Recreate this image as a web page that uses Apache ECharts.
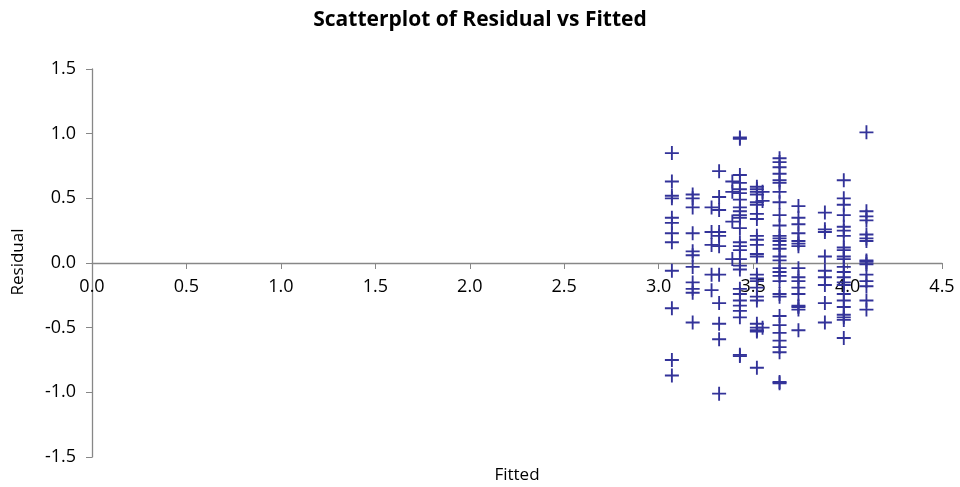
<!DOCTYPE html>
<html>
<head>
<meta charset="utf-8">
<script src="https://cdn.jsdelivr.net/npm/echarts@6/dist/echarts.min.js"></script>
<style>
html,body{margin:0;padding:0;background:#fff;}
#c{width:960px;height:487px;}
</style>
</head>
<body>
<div id="c"></div>
<script>
// Fitted value of each column of points
var fitted = [3.07, 3.18, 3.28, 3.32, 3.39, 3.43, 3.52, 3.55, 3.64, 3.74, 3.88, 3.98, 4.10];
// Residuals in each column
var res307 = [0.85, 0.63, 0.52, 0.50, 0.35, 0.31, 0.23, 0.16, -0.06, -0.35, -0.75, -0.87];
var res318 = [0.53, 0.50, 0.43, 0.23, 0.09, 0.06, -0.03, -0.15, -0.20, -0.23, -0.46];
var res328 = [0.43, 0.24, 0.14, -0.09, -0.21];
var res332 = [0.71, 0.51, 0.41, 0.24, 0.21, 0.13, -0.09, -0.31, -0.47, -0.59, -1.01];
var res339 = [0.63, 0.55, 0.32, 0.03];
var res343 = [0.97, 0.96, 0.68, 0.62, 0.57, 0.54, 0.49, 0.43, 0.40, 0.37, 0.35, 0.27, 0.16, 0.13, 0.10, 0.03, -0.02, -0.05, -0.20, -0.24, -0.29, -0.33, -0.37, -0.42, -0.71, -0.72];
var res352 = [0.59, 0.57, 0.55, 0.53, 0.47, 0.45, 0.38, 0.34, 0.21, 0.18, 0.14, 0.07, 0.05, -0.09, -0.12, -0.14, -0.19, -0.26, -0.29, -0.47, -0.50, -0.52, -0.53, -0.81];
var res355 = [0.55, 0.48, -0.50];
var res364 = [0.81, 0.78, 0.74, 0.69, 0.64, 0.62, 0.55, 0.47, 0.37, 0.29, 0.21, 0.19, 0.17, 0.14, 0.11, 0.05, 0.02, -0.04, -0.07, -0.10, -0.14, -0.24, -0.26, -0.41, -0.48, -0.54, -0.60, -0.65, -0.69, -0.92, -0.93];
var res374 = [0.44, 0.35, 0.30, 0.23, 0.17, 0.15, 0.13, -0.04, -0.11, -0.14, -0.19, -0.24, -0.33, -0.34, -0.36, -0.52];
var res388 = [0.39, 0.26, 0.24, 0.05, -0.06, -0.11, -0.17, -0.31, -0.46];
var res398 = [0.64, 0.50, 0.45, 0.37, 0.28, 0.25, 0.21, 0.12, 0.10, 0.05, 0.03, -0.03, -0.07, -0.11, -0.15, -0.17, -0.24, -0.29, -0.34, -0.40, -0.42, -0.44, -0.58];
var res410 = [1.01, 0.40, 0.36, 0.33, 0.22, 0.19, 0.17, 0.02, 0.01, -0.01, -0.09, -0.14, -0.18, -0.29, -0.36];
var residualColumns = [res307, res318, res328, res332, res339, res343, res352, res355, res364, res374, res388, res398, res410];
// Axis ticks
var xTicks = [0, 4.5, 0.5];
var yTicks = [-1.5, 1.5, 0.5];

var points = [];
residualColumns.forEach(function (col, i) {
  col.forEach(function (r) { points.push([fitted[i], r]); });
});

var font = '"Open Sans", Lato, "Liberation Sans", sans-serif';
var axisGray = '#878787';
var gridTop = 69, gridBottom = 30, H = 487;
// the x axis crosses the y axis at residual 0 (middle of the symmetric range)
var xAxisOffset = -((H - gridTop - gridBottom) * (0 - yTicks[0]) / (yTicks[1] - yTicks[0]));
var chart = echarts.init(document.getElementById('c'), null, {renderer: 'canvas'});
chart.setOption({
  animation: false,
  backgroundColor: '#ffffff',
  title: {
    text: 'Scatterplot of Residual vs Fitted',
    left: 'center',
    top: 5,
    textStyle: {fontFamily: font, fontWeight: 'bold', fontSize: 21, color: '#000'}
  },
  grid: {left: 92, right: 18, top: gridTop, bottom: gridBottom},
  xAxis: {
    type: 'value',
    min: xTicks[0], max: xTicks[1], interval: xTicks[2],
    position: 'bottom',
    offset: xAxisOffset,
    axisLine: {onZero: false, lineStyle: {color: axisGray, width: 1.3}},
    axisTick: {show: true, inside: false, length: 6, lineStyle: {color: axisGray}},
    axisLabel: {fontFamily: font, fontSize: 18, color: '#000', margin: 15,
      formatter: function (v) { return v.toFixed(1); }},
    splitLine: {show: false}
  },
  yAxis: {
    type: 'value',
    min: yTicks[0], max: yTicks[1], interval: yTicks[2],
    axisLine: {show: true, onZero: false, lineStyle: {color: axisGray, width: 1.3}},
    axisTick: {show: true, inside: false, length: 6, lineStyle: {color: axisGray}},
    axisLabel: {fontFamily: font, fontSize: 18, color: '#000', margin: 16,
      formatter: function (v) { return v.toFixed(1); }},
    splitLine: {show: false}
  },
  graphic: [
    {type: 'text', x: 517, y: 475,
      style: {text: 'Fitted', font: '17px ' + font, fill: '#000', textAlign: 'center', textVerticalAlign: 'middle'}},
    {type: 'text', rotation: Math.PI / 2, x: 18, y: 262,
      style: {text: 'Residual', font: '17px ' + font, fill: '#000', textAlign: 'center', textVerticalAlign: 'middle'}}
  ],
  series: [{
    type: 'scatter',
    data: points,
    symbol: 'path://M0,6.5H15V8.5H0Z M6.5,0H8.5V15H6.5Z',
    symbolSize: [14, 14],
    itemStyle: {color: '#333399', opacity: 1},
    silent: true
  }]
});
</script>
</body>
</html>
